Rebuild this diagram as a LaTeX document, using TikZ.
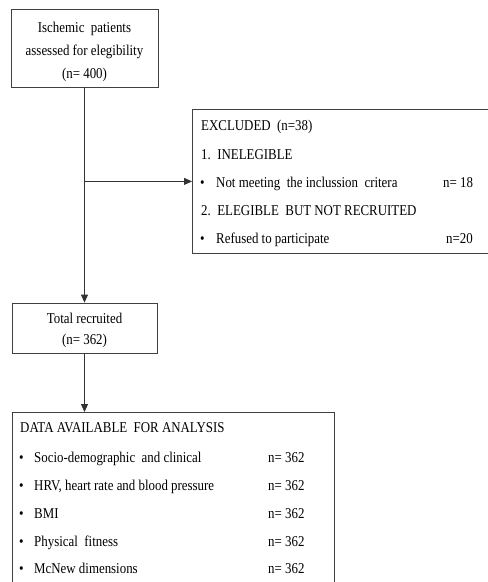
\documentclass[tikz,border=0pt]{standalone}
\usepackage{fontspec}
\setmainfont[FakeStretch=0.86]{Liberation Serif}
\usetikzlibrary{arrows.meta}
\begin{document}
\begin{tikzpicture}[x=1pt,y=-1pt,
  frame/.style={draw=black!75, line width=0.8pt, rectangle, inner sep=0pt},
  txt/.style={inner sep=0pt, font=\fontsize{15}{17}\selectfont, text=black, anchor=base},
  ltxt/.style={txt, anchor=base west},
  link/.style={draw=black!80, line width=0.8pt},
  arr/.style={link, -{Triangle[length=8pt,width=7pt]}}]
\useasboundingbox (0,0) rectangle (488,582);
\clip (0,0) rectangle (488,582);

% boxes
\node[frame, minimum width=147pt, minimum height=78pt] (screen) at (84.5,48) {};
\node[frame, minimum width=296pt, minimum height=144pt, anchor=north west] (excl) at (192,109) {};
\node[frame, minimum width=145pt, minimum height=50pt] (recr) at (84.5,328) {};
\node[frame, minimum width=322pt, minimum height=180pt, anchor=north west] (data) at (12,412) {};

% screening box text (baselines)
\node[txt] (s1) at (84.5,32) {Ischemic\ \ patients};
\node[txt] (s2) at (84.5,55) {assessed for elegibility};
\node[txt] (s3) at (84.5,78) {(n= 400)};

% exclusion box text
\node[ltxt] (e0) at (201,130) {EXCLUDED\ \ (n=38)};
\node[ltxt] (e1) at (201,159) {1.\ \ INELEGIBLE};
\node[ltxt] (e2b) at (200,187) {\textbullet};
\node[ltxt] (e2) at (216,187) {Not meeting\ \ the inclussion\ \ critera};
\node[ltxt] (e2n) at (443,187) {n= 18};
\node[ltxt] (e3) at (201,215) {2.\ \ ELEGIBLE\ \ BUT NOT RECRUITED};
\node[ltxt] (e4b) at (200,243) {\textbullet};
\node[ltxt] (e4) at (216,243) {Refused\ to participate};
\node[ltxt] (e4n) at (446,243) {n=20};

% recruited box text
\node[txt] (r1) at (84.5,323) {Total\ recruited};
\node[txt] (r2) at (84.5,344) {(n= 362)};

% data box text
\node[ltxt] (d0) at (20,432) {DATA AVAILABLE\ \ FOR ANALYSIS};
\foreach \y/\lab [count=\i] in {462/{Socio-demographic\ \ and clinical},
    490/{HRV, heart rate\ and blood pressure},
    518/{BMI},
    546/{Physical\ \ fitness},
    573/{McNew dimensions}} {
  \node[ltxt] (db\i) at (19,\y) {\textbullet};
  \node[ltxt] (dt\i) at (34,\y) {\lab};
  \node[ltxt] (dn\i) at (268,\y) {n= 362};
}

% connectors
\coordinate (split) at (screen.south |- excl.west);
\draw[link] (screen.south) -- (split);
\draw[arr] (split) -- (excl.west);
\draw[arr] (split) -- (recr.north);
\draw[arr] (recr.south) -- (data.north -| recr.south);
\end{tikzpicture}
\end{document}
